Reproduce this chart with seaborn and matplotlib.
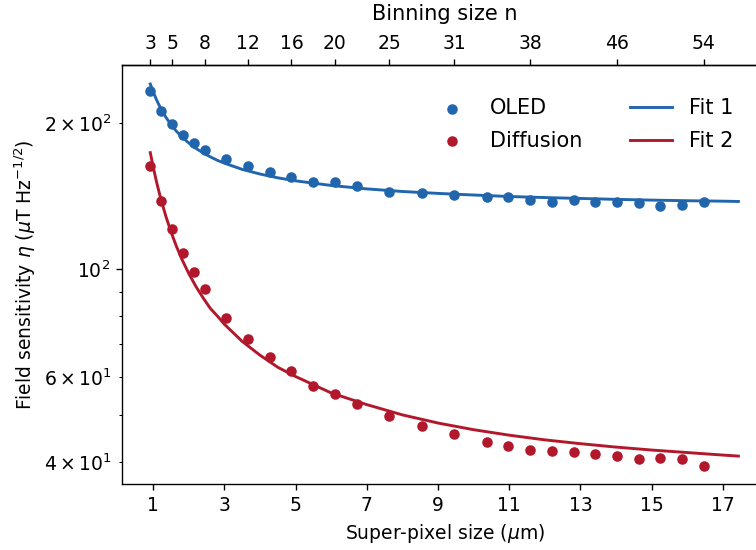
import matplotlib
matplotlib.use("Agg")
import matplotlib.pyplot as plt
import pandas as pd
import seaborn as sns

# Camera pixel pitch in the sample plane (um per binned pixel)
PIXEL_UM = 0.305

binning_n = [3, 4, 5, 6, 7, 8, 10, 12, 14, 16, 18, 20, 22, 25, 28, 31, 34,
             36, 38, 40, 42, 44, 46, 48, 50, 52, 54]
oled = [233.5, 212.3, 199.4, 189.5, 181.9, 176.2, 168.6, 163.3, 158.9, 155.2,
        151.6, 151.1, 148.5, 144.5, 143.6, 142.3, 141.1, 140.7, 139.0, 137.8,
        139.0, 137.8, 137.8, 136.8, 135.0, 135.5, 137.4]
diffusion = [163.3, 138.1, 120.9, 108.2, 98.6, 90.9, 79.5, 71.9, 66.0, 61.7,
             57.5, 55.3, 52.8, 49.9, 47.5, 45.7, 44.1, 43.3, 42.5, 42.3,
             42.0, 41.6, 41.3, 40.6, 40.8, 40.7, 39.3]

fit_x = [0.915, 1.0, 1.1, 1.2, 1.35, 1.5, 1.65, 1.8, 2.0, 2.2, 2.4, 2.6, 2.8,
         3.0, 3.5, 4.0, 4.5, 5.0, 6.0, 7.0, 8.0, 9.0, 10.0, 11.0, 12.0, 13.0,
         14.0, 15.0, 16.0, 17.0, 17.44]
fit1 = [241.0, 231.8, 222.8, 215.2, 206.0, 198.6, 192.6, 187.6, 182.1, 177.5,
        173.8, 170.6, 167.8, 165.5, 160.7, 157.2, 154.4, 152.2, 148.9, 146.5,
        144.7, 143.4, 142.3, 141.3, 140.6, 140.0, 139.4, 138.9, 138.5, 138.2,
        138.0]
fit2 = [174.0, 162.1, 150.4, 140.7, 128.8, 119.3, 111.5, 105.0, 97.9, 92.1,
        87.3, 83.1, 80.1, 77.0, 71.0, 66.5, 62.8, 60.1, 55.6, 52.6, 50.1,
        48.2, 46.7, 45.5, 44.5, 43.7, 43.0, 42.4, 41.9, 41.4, 41.2]

top_ticks = [3, 5, 8, 12, 16, 20, 25, 31, 38, 46, 54]
bottom_ticks = [1, 3, 5, 7, 9, 11, 13, 15, 17]

BLUE = "#2166ac"
RED = "#b2182b"

plt.rcParams.update({"font.size": 11, "font.family": ["DejaVu Sans"]})

points = pd.DataFrame({
    "size": [n * PIXEL_UM for n in binning_n],
    "oled": oled,
    "diffusion": diffusion,
})
fits = pd.DataFrame({"size": fit_x, "fit1": fit1, "fit2": fit2})

DPI = 123
fig = plt.figure(figsize=(756 / DPI, 550 / DPI), dpi=DPI)
ax = fig.add_axes([0.161, 0.1195, 0.8548, 0.7623])

sns.lineplot(data=fits, x="size", y="fit1", color=BLUE, lw=1.7, label="Fit 1",
             ax=ax, zorder=2)
sns.lineplot(data=fits, x="size", y="fit2", color=RED, lw=1.7, label="Fit 2",
             ax=ax, zorder=2)
sns.scatterplot(data=points, x="size", y="oled", color=BLUE, s=38,
                linewidth=0, label="OLED", ax=ax, zorder=3)
sns.scatterplot(data=points, x="size", y="diffusion", color=RED, s=38,
                linewidth=0, label="Diffusion", ax=ax, zorder=3)

ax.set_yscale("log")
ax.set_xlim(0.112, 18.27)
ax.set_ylim(36.04, 263.8)
ax.set_xticks(bottom_ticks)
ax.set_xlabel(r"Super-pixel size ($\mu$m)")
ax.set_ylabel(r"Field sensitivity $\eta$ ($\mu$T Hz$^{-1/2}$)")

top = ax.secondary_xaxis("top", functions=(lambda x: x / PIXEL_UM,
                                           lambda n: n * PIXEL_UM))
top.set_xticks(top_ticks)
top.set_xlabel("Binning size n", fontsize=12.2, labelpad=8)

handles, labels = ax.get_legend_handles_labels()
lookup = dict(zip(labels, handles))
order = ["OLED", "Diffusion", "Fit 1", "Fit 2"]
ax.legend([lookup[k] for k in order], order, ncol=2, frameon=False,
          fontsize=12.2, columnspacing=2.3, labelspacing=0.6,
          loc="upper right", bbox_to_anchor=(0.975, 0.965))

fig.savefig("out.png", dpi=DPI)
